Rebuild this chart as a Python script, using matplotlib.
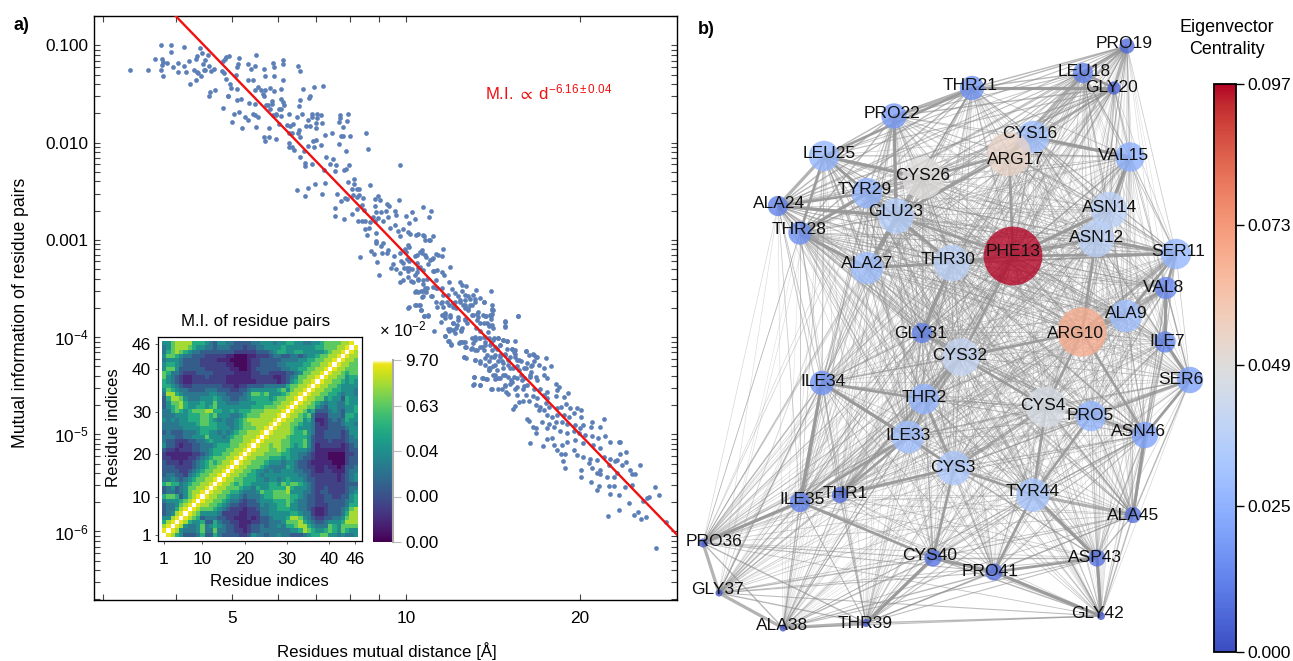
import numpy as np
import matplotlib
matplotlib.use("Agg")
import matplotlib.pyplot as plt
from matplotlib.collections import LineCollection
from matplotlib.colors import ListedColormap, Normalize
from matplotlib.cm import ScalarMappable
from matplotlib.ticker import FixedLocator, NullFormatter, FixedFormatter

plt.rcParams.update({
    "font.family": ["Liberation Sans", "DejaVu Sans"],
    "mathtext.fontset": "custom",
    "mathtext.rm": "Liberation Sans",
    "mathtext.it": "Liberation Sans",
    "mathtext.bf": "Liberation Sans:bold",
    "mathtext.fallback": "stixsans",
})

# ---- scatter: (distance in Angstrom, log10 mutual information)
band_a = [(3.34,-1.25),(3.58,-1.25),(3.77,-1.25),(3.81,-1.31),(3.68,-1.14),(3.78,-1.00),(3.93,-1.00),(3.92,-1.07),
 (3.79,-1.14),(3.81,-1.17),(3.79,-1.20),(3.87,-1.18),(3.96,-1.22),(4.13,-1.02),(4.03,-1.18),(4.04,-1.27),(4.14,-1.21),
 (4.21,-1.16),(4.17,-1.27),(4.23,-1.40),(4.34,-1.35),(4.30,-1.25),(4.36,-1.27),(4.38,-1.28),(4.43,-1.31),(4.47,-1.25),
 (4.50,-1.25),(4.56,-1.21),(4.60,-1.26),(4.65,-1.24),(4.46,-1.19),(4.50,-1.15),(4.54,-1.10),(4.44,-1.08),(4.40,-1.03),
 (4.35,-1.11),(4.33,-1.14),(4.57,-1.52),(4.59,-1.48),(4.67,-1.46),(4.82,-1.64),(4.80,-1.26),(4.85,-1.28),(4.88,-1.34),
 (4.83,-1.16),(4.86,-1.14),(4.88,-1.12),(4.95,-1.11),(4.96,-1.40),(4.98,-1.44),(4.92,-1.52),(4.93,-1.52)]
band_b = [(5.01,-1.79),(5.04,-1.70),(5.14,-1.68),(5.21,-1.85),(5.26,-1.74),(5.33,-1.77),(5.11,-1.56),(5.18,-1.55),
 (5.11,-1.45),(5.12,-1.19),(5.10,-1.22),(5.14,-1.13),(5.08,-1.30),(5.34,-1.19),(5.34,-1.35),(5.43,-1.35),(5.40,-1.24),
 (5.49,-1.21),(5.51,-1.10),(5.35,-1.59),(5.49,-1.60),(5.45,-1.70),(5.49,-1.72),(5.56,-1.74),(5.51,-1.84),(5.54,-1.43),
 (5.49,-1.46),(5.62,-1.46),(5.66,-1.50),(5.71,-1.46),(5.83,-1.44),(5.92,-1.47),(5.69,-1.52),(5.69,-1.24),(5.71,-1.31),
 (5.92,-1.31),(5.90,-1.18),(5.91,-1.22),(5.74,-1.61),(5.78,-1.61),(5.86,-1.57),(5.86,-1.60),(5.81,-1.65),(5.80,-1.85),
 (5.69,-1.94),(5.71,-1.98),(5.79,-1.94),(5.96,-1.96),(5.90,-1.71),(5.96,-1.71),(6.07,-1.73),(6.03,-1.81),(5.97,-1.70)]
band_c = [(6.12,-1.15),(6.14,-1.19),(6.13,-1.35),(6.08,-1.45),(6.08,-1.55),(6.12,-1.58),(6.16,-1.61),(6.09,-1.65),
 (6.03,-1.65),(6.27,-1.70),(6.22,-1.82),(6.31,-1.83),(6.38,-1.81),(6.47,-1.74),(6.60,-1.70),(6.50,-1.21),(6.57,-1.26),
 (6.65,-1.45),(6.55,-1.56),(6.54,-1.62),(6.83,-1.52),(6.79,-1.54),(6.94,-1.43),(7.19,-1.42),(6.29,-1.90),(6.35,-1.90),
 (6.50,-1.90),(6.54,-1.87),(6.57,-1.94),(6.28,-2.00),(6.29,-2.04),(6.35,-2.04),(6.41,-2.08),(6.66,-2.09),(6.55,-2.15),
 (6.78,-2.03),(6.91,-1.98),(7.00,-1.97),(6.94,-2.04),(7.12,-2.02),(6.70,-2.21),(6.68,-2.24),(6.87,-2.22),(6.72,-1.83),
 (6.83,-1.83),(6.78,-1.77),(6.87,-1.70),(6.87,-1.74),(7.03,-1.70),(7.13,-1.72),(7.03,-1.75),(7.00,-1.80),(7.15,-1.80),
 (7.00,-1.85),(7.25,-1.92),(7.46,-1.90),(7.72,-1.93),(7.77,-1.93),(8.01,-1.93),(7.65,-2.01),(7.89,-2.09),(7.68,-1.72),
 (7.70,-1.75),(7.65,-1.79),(7.77,-1.84),(7.92,-1.78),(7.95,-1.70),(8.52,-1.90),(8.59,-2.06),(7.28,-2.15),(7.48,-2.17),
 (7.40,-2.22),(7.57,-2.23),(7.55,-2.29),(7.22,-2.28),(7.98,-2.23),(7.87,-2.27),(7.82,-2.28),(9.75,-2.23)]
band_d = [(6.48,-2.49),(6.70,-2.55),(6.78,-2.47),(6.97,-2.42),(7.25,-2.41),(7.16,-2.53),(7.60,-2.53),(7.72,-2.60),
 (7.85,-2.57),(7.92,-2.58),(7.93,-2.40),(8.13,-2.37),(8.13,-2.42),(8.06,-2.48),(8.22,-2.48),(8.30,-2.48),(8.66,-2.44),
 (8.09,-2.54),(8.22,-2.56),(8.31,-2.54),(8.42,-2.57),(8.39,-2.64),(8.22,-2.68),(8.47,-2.69),(8.06,-2.73),(7.53,-2.67),
 (7.55,-2.75),(7.83,-2.78),(8.26,-2.81),(8.39,-2.81),(8.50,-2.81),(8.66,-2.82),(8.83,-2.81),(8.83,-2.58),(8.94,-2.55),
 (9.02,-2.59),(8.83,-2.65),(9.29,-2.63),(9.35,-2.65),(9.22,-2.70),(9.71,-2.59),(8.89,-2.71),(9.06,-2.71),(8.78,-2.76),
 (8.94,-2.77),(9.13,-2.81),(9.31,-2.76),(9.59,-2.70),(9.60,-2.74),(10.0,-2.75),(10.23,-2.71),(10.35,-2.79),(10.69,-2.66),
 (11.03,-2.70),(10.95,-2.76),(8.50,-2.89),(8.55,-2.95),(8.89,-2.93),(8.62,-2.88),(9.56,-2.85),(9.38,-2.88),(9.67,-2.91),
 (9.87,-2.89),(10.14,-2.83),(10.07,-2.92),(9.78,-2.96),(10.41,-2.95),(10.74,-2.96),(10.98,-3.00)]
band_e = [(8.89,-3.01),(9.06,-3.06),(9.13,-3.03),(9.31,-3.10),(8.89,-3.03),(8.70,-3.11),(8.81,-3.15),(9.08,-3.14),
 (9.26,-3.14),(8.33,-3.18),(8.91,-3.23),(8.97,-3.36),(9.54,-3.17),(9.75,-3.13),(10.0,-3.12),(10.14,-3.07),(10.56,-3.12),
 (10.81,-3.18),(11.25,-3.15),(11.10,-3.20),(10.35,-3.17),(10.14,-3.22),(9.81,-3.22),(9.50,-3.25),(9.44,-3.29),(9.63,-3.30),
 (9.94,-3.29),(10.07,-3.32),(9.75,-3.34),(9.90,-3.41),(9.78,-3.43),(10.20,-3.42),(10.49,-3.29),(10.69,-3.31),(11.18,-3.32),
 (10.49,-3.40),(10.69,-3.41),(10.50,-3.54),(10.35,-3.54),(10.63,-3.53),(10.70,-3.58),(11.04,-3.58),(11.25,-3.49),(10.80,-3.49),
 (10.35,-3.36),(10.14,-3.29)]
band_e2 = [(10.47,-2.94),(10.72,-2.95),(11.12,-2.96),(11.0,-3.0),(10.79,-3.0),(10.17,-2.94),(10.1,-3.05),(9.96,-3.09),
 (10.65,-3.10),(11.58,-3.09),(10.44,-3.16),(10.65,-3.14),(10.79,-3.16),(11.15,-3.19),(11.38,-3.16),(11.56,-3.17),(11.0,-3.21),
 (10.93,-3.25),(10.44,-3.24),(10.58,-3.28),(10.03,-3.20),(9.9,-3.24),(10.03,-3.29),(10.24,-3.30),(10.44,-3.33),(10.1,-3.38),
 (10.3,-3.43),(10.51,-3.41),(10.72,-3.45),(10.86,-3.40),(11.15,-3.32),(11.3,-3.31),(11.53,-3.33),(11.65,-3.36),(11.91,-3.28),
 (11.86,-3.43),(12.4,-3.43),(12.48,-3.46),(12.7,-3.47),(11.27,-3.41),(11.15,-3.48),(11.3,-3.50),(11.53,-3.50),(12.03,-3.51),
 (12.15,-3.55),(12.48,-3.53),(12.32,-3.58),(12.65,-3.57),(12.82,-3.58),(13.07,-3.57),(13.2,-3.52),(14.02,-3.53),(10.42,-3.53),
 (10.69,-3.53),(10.86,-3.50),(10.83,-3.54),(10.65,-3.59),(11.08,-3.58),(11.27,-3.64),(11.53,-3.64),(11.6,-3.57),(11.83,-3.57),
 (10.38,-3.67),(10.56,-3.67),(10.13,-3.69),(10.61,-3.72),(11.6,-3.69),(11.88,-3.67),(12.07,-3.65),(12.4,-3.64),(12.65,-3.67),
 (12.9,-3.67),(13.16,-3.64),(13.43,-3.60),(13.65,-3.64),(14.07,-3.67),(14.07,-3.72),(13.3,-3.74),(12.82,-3.72),(13.07,-3.77),
 (13.7,-3.78),(13.98,-3.77),(11.68,-3.77),(11.91,-3.79),(10.93,-3.77),(10.75,-3.78),(12.32,-3.79),(12.65,-3.70)]
band_e3 = [(11.53,-3.77),(11.68,-3.75),(11.91,-3.77),(12.15,-3.64),(12.4,-3.62),(12.65,-3.62),(12.9,-3.61),(13.16,-3.61),
 (13.62,-3.64),(14.08,-3.71),(14.08,-3.76),(13.75,-3.78),(14.08,-3.88),(13.89,-3.88),(13.62,-3.86),(13.25,-3.82),(14.8,-3.83),
 (14.8,-3.89),(15.63,-3.78),(12.07,-3.86),(12.23,-3.88),(12.65,-3.82),(11.83,-3.92),(12.07,-3.93),(12.43,-3.93),(12.73,-3.86),
 (11.68,-3.99),(11.83,-4.04),(11.94,-4.07),(12.43,-4.05),(12.65,-4.05),(12.65,-4.10),(13.16,-4.00),(13.35,-4.01),(13.62,-4.00),
 (13.7,-4.05),(13.07,-4.06),(12.98,-4.11),(13.25,-4.13),(13.53,-4.10),(13.98,-4.08),(14.17,-4.01),(14.45,-4.01),(14.74,-4.03),
 (14.92,-4.04),(14.08,-4.13),(14.36,-4.12),(14.55,-4.08),(15.24,-4.12),(15.35,-4.15),(14.83,-4.17),(14.55,-4.18),(14.17,-4.20),
 (13.8,-4.18),(13.62,-4.13),(16.1,-4.14),(16.64,-4.18),(15.46,-4.20),(15.67,-4.24),(16.2,-4.27),(16.85,-4.21),(15.02,-4.24),
 (14.64,-4.25),(14.26,-4.29),(13.89,-4.25),(13.44,-4.27),(13.16,-4.24),(12.6,-4.21),(13.98,-4.32),(14.36,-4.34),(14.74,-4.32),
 (15.13,-4.32),(15.57,-4.30),(16.0,-4.32),(16.53,-4.29),(16.43,-4.36),(15.78,-4.39),(15.35,-4.41),(14.83,-4.39),(14.26,-4.39),
 (13.89,-4.34),(13.13,-4.41),(13.58,-4.42),(13.76,-4.43),(14.26,-4.43),(14.55,-4.42),(15.24,-4.46),(15.89,-4.44),(16.38,-4.41),
 (13.07,-4.49),(13.4,-4.49),(14.08,-4.53),(14.64,-4.53),(14.83,-4.49),(15.57,-4.51),(16.0,-4.50),(16.85,-4.44)]
band_f = [(10.1,-3.70),(10.4,-3.67),(10.55,-3.67),(10.6,-3.72),(10.75,-3.78),(10.9,-3.78),(11.2,-3.94),(11.3,-3.69),
 (11.5,-3.65),(11.75,-3.64),(11.6,-3.77),(11.7,-3.80),(11.5,-3.84),(11.9,-3.92),(11.85,-3.94),(11.7,-3.99),(11.85,-4.04),
 (11.95,-4.08),(12.05,-3.69),(12.2,-3.70),(12.55,-3.67),(12.8,-3.70),(13.0,-3.67),(13.25,-3.76),(13.6,-3.77),(14.0,-3.78),
 (14.15,-3.72),(14.05,-3.81),(13.8,-3.86),(13.9,-3.89),(14.15,-3.91),(14.8,-3.84),(14.85,-3.90),(15.6,-3.78),(12.05,-3.86),
 (12.3,-3.82),(12.2,-3.91),(12.5,-3.91),(12.45,-3.94),(12.15,-3.96),(12.65,-3.81),(13.0,-3.77),(13.3,-3.79),(13.45,-3.86),
 (13.2,-3.91),(13.45,-3.94),(13.85,-3.95),(12.4,-4.05),(12.55,-4.05),(12.7,-4.10),(12.35,-4.06),(13.0,-4.01),(13.15,-4.03),
 (13.45,-4.01),(13.7,-4.00),(13.9,-4.01),(14.15,-4.03),(14.4,-4.01),(14.7,-4.03),(14.95,-4.04),(15.45,-4.04)]
band_g = [(12.95,-4.12),(13.15,-4.13),(13.45,-4.10),(13.7,-4.08),(14.0,-4.06),(14.25,-4.10),(14.55,-4.08),(14.95,-4.12),
 (15.25,-4.12),(15.45,-4.13),(16.1,-4.14),(16.55,-4.17),(15.45,-4.17),(12.6,-4.21),(12.7,-4.22),(13.15,-4.24),(13.45,-4.25),
 (13.7,-4.22),(14.0,-4.20),(14.25,-4.18),(14.55,-4.20),(14.85,-4.18),(15.15,-4.20),(15.55,-4.24),(15.8,-4.25),(16.75,-4.20),
 (16.3,-4.18),(17.45,-4.22),(16.65,-4.25),(17.0,-4.29),(13.7,-4.29),(13.9,-4.32),(14.15,-4.30),(14.4,-4.25),(14.7,-4.27),
 (15.0,-4.29),(15.3,-4.32),(15.65,-4.34),(16.1,-4.32),(16.45,-4.30),(17.3,-4.32),(17.8,-4.30),(13.9,-4.34),(14.15,-4.39),
 (14.4,-4.42),(14.7,-4.39),(15.0,-4.41),(15.2,-4.44),(15.55,-4.42),(16.0,-4.42),(16.35,-4.39),(16.8,-4.41),(17.3,-4.39),
 (17.55,-4.42),(13.1,-4.41),(13.1,-4.48),(13.45,-4.49),(13.55,-4.42),(13.8,-4.43),(14.05,-4.53),(14.4,-4.53),(14.8,-4.50),
 (15.1,-4.48),(15.45,-4.53),(15.9,-4.53),(16.2,-4.49),(16.65,-4.53),(17.05,-4.53),(17.55,-4.56),(18.15,-4.48),(18.4,-4.51),
 (18.25,-4.54),(19.05,-4.58),(18.75,-4.62)]
band_h = [(14.9,-4.56),(15.0,-4.59),(15.55,-4.60),(16.1,-4.60),(16.55,-4.61),(16.85,-4.63),(17.3,-4.60),(17.55,-4.63),
 (18.15,-4.61),(15.65,-4.67),(15.45,-4.71),(15.3,-4.74),(15.9,-4.66),(16.3,-4.66),(16.75,-4.70),(17.05,-4.72),(17.45,-4.68),
 (17.7,-4.72),(17.0,-4.75),(17.3,-4.75),(18.25,-4.73),(18.5,-4.72),(18.9,-4.69),(19.2,-4.73),(19.75,-4.73),(20.1,-4.75),
 (16.2,-4.84),(16.3,-4.86),(17.55,-4.80),(17.9,-4.82),(18.25,-4.80),(18.75,-4.80),(19.1,-4.82),(19.5,-4.78),(20.1,-4.82),
 (21.0,-4.87),(21.95,-4.84),(17.2,-4.87),(17.65,-4.89),(18.15,-4.87),(18.6,-4.87),(19.0,-4.89),(19.6,-4.90),(20.25,-4.90),
 (20.85,-4.92),(21.65,-4.93),(16.55,-4.93),(16.8,-4.94),(16.8,-4.99),(17.55,-4.94),(18.0,-4.92),(18.45,-4.97),(19.0,-4.99),
 (19.5,-4.97),(20.0,-4.94),(19.9,-4.99),(20.4,-5.01),(20.95,-5.02),(21.5,-5.04),(22.1,-5.02)]
band_i = [(16.4,-5.09),(17.25,-5.12),(17.5,-5.05),(17.9,-5.04),(18.0,-5.11),(18.6,-5.11),(19.0,-5.08),(19.6,-5.06),
 (20.25,-5.09),(21.05,-5.11),(21.65,-5.14),(22.5,-5.08),(23.3,-5.08),(23.45,-5.08),(18.25,-5.16),(18.5,-5.20),(18.85,-5.20),
 (19.5,-5.16),(19.75,-5.21),(20.25,-5.23),(20.8,-5.25),(21.4,-5.26),(22.0,-5.23),(22.55,-5.25),(23.15,-5.26),(24.0,-5.18),
 (23.45,-5.20),(18.65,-5.27),(18.8,-5.35),(20.7,-5.30),(20.95,-5.35),(21.65,-5.37),(22.4,-5.32),(23.0,-5.28),(23.6,-5.32),
 (24.0,-5.29),(25.4,-5.32),(20.1,-5.37),(20.1,-5.44),(20.85,-5.49),(21.6,-5.41),(21.4,-5.40),(22.25,-5.44),(22.85,-5.44),
 (23.15,-5.40),(24.4,-5.37),(24.85,-5.41),(24.55,-5.41),(21.4,-5.57),(21.55,-5.53),(22.4,-5.53),(22.85,-5.53),(23.9,-5.54),
 (24.6,-5.52),(22.55,-5.61),(23.3,-5.62),(26.05,-5.66),(26.3,-5.65),(26.9,-5.54),(27.4,-5.62),(25.65,-5.69),(24.3,-5.71),
 (23.3,-5.78),(22.3,-5.84),(24.75,-5.83),(25.2,-5.80),(25.45,-5.87),(26.0,-5.85),(28.1,-5.90),(27.0,-6.17)]

fit_amplitude = 1028.0
fit_exponent = -6.16
fit_range = [3.9, 29.4]
mi_ticks = [1e-1, 1e-2, 1e-3, 1e-4, 1e-5, 1e-6]
mi_ticklabels = ["0.100", "0.010", "0.001", "10$^{-4}$", "10$^{-5}$", "10$^{-6}$"]
dist_ticks = [5, 10, 20]
dist_minor = [3, 4, 6, 7, 8, 9, 30]

# ---- inset matrix: lower triangle, colour level 0-9 per cell, w = diagonal maximum
matrix_rows = ["w","9w","89w","689w","5589w","34589w","344689w","3445789w","45556789w","677635789w",
 "3443457889w","34534577889w","676645677889w","44543456778"+"89w",
 "344332456778"+"89w","3333223456778"+"89w","33322223456778"+"89w","322212234567678"+"89w",
 "2211112234567778"+"89w","21111112234566778"+"89w","322122233445666778"+"89w","5332122334445666778"+"89w",
 "43322233445655557778"+"89w","444334455575554567788"+"89w","3433344456655454567788"+"89w",
 "44444555566665554567778"+"89w","444455556776655445677888"+"89w","5454556667765454456788888"+"89w",
 "44455566677675554456777888"+"89w","446765677788665565666777888"+"89w","3567865566567555555556667778"+"89w",
 "35778655565575544455556666778"+"89w","368875444555654433445666656778"+"89w",
 "4886544444455443333457767555678"+"89w","57654433334443332233455555567578"+"89w",
 "665432233333332221223333444446778"+"89w","6543211222222221111111222221235678"+"89w",
 "75432112223222211111122222112345778"+"89w","764432223333222221111223322223345778"+"89w",
 "5775333333222222110012333333445566778"+"89w","56654333322222211000122333344555566778"+"89w",
 "455543333222211100001223333344445566778"+"89w","5776544333222221100011222344334434556778"+"89w",
 "46787654433333333222223334566556655555678"+"89w","457888765544344433323344555565555555667778"+"89w",
 "5578888666543554433334455545566554455677778"+"89w"]
level_value = [0.03, 0.12, 0.20, 0.30, 0.40, 0.50, 0.62, 0.75, 0.87, 0.97]

# ---- network: residues in sequence order, layout position, centrality, label centre
residues = ["THR1","THR2","CYS3","CYS4","PRO5","SER6","ILE7","VAL8","ALA9","ARG10","SER11","ASN12","PHE13","ASN14",
 "VAL15","CYS16","ARG17","LEU18","PRO19","GLY20","THR21","PRO22","GLU23","ALA24","LEU25","CYS26","ALA27","THR28",
 "TYR29","THR30","GLY31","CYS32","ILE33","ILE34","ILE35","PRO36","GLY37","ALA38","THR39","CYS40","PRO41","GLY42",
 "ASP43","TYR44","ALA45","ASN46"]
layout_x = [840,924,954,1046,1091,1190,1165,1166,1126,1082,1176,1096,1013,1109,1130,1033,1009,1083,1127,1114,972,894,
 896,778,824,923,867,800,867,952,922,961,908,822,800,703,719,783,866,933,994,1101,1097,1033,1133,1145]
layout_y = [495,399,468,407,416,380,342,288,316,332,254,239,256,210,157,137,154,73,46,88,88,116,216,206,156,178,268,
 233,193,263,333,357,437,383,502,543,593,628,623,558,572,616,558,495,515,435]
label_x = [845,924,953,1043,1090,1181,1167,1164,1126,1075,1178,1097,1013,1110,1123,1030,1015,1084,1124,1112,970,892,
 896,779,829,923,867,799,865,948,921,960,908,823,802,714,718,782,865,930,990,1098,1095,1033,1133,1138]
label_y = [494,397,467,406,415,380,342,287,314,333,251,238,252,208,155,133,160,72,44,88,85,113,212,203,153,176,264,
 230,190,259,333,355,436,382,500,541,590,625,623,556,571,613,557,491,515,432]
centrality = [.0074,.0259,.033,.046,.0259,.0194,.0127,.0139,.0295,.068,.0259,.0373,.097,.0373,.0242,.0295,.0540,.0115,
 .0065,.0049,.0166,.018,.0352,.0115,.0259,.0490,.0295,.0152,.0259,.0373,.0115,.040,.0295,.0166,.0115,.0023,.0014,
 .0014,.0018,.0083,.0083,.0018,.0083,.0313,.0074,.0194]
strong_edges = [(21,25),(22,23),(25,26),(25,29),(25,28),(24,23),(24,29),(28,29),(28,27),(26,17),(23,17),(16,15),(17,13),
 (13,14),(13,11),(12,11),(14,15),(27,30),(27,23),(23,30),(23,13),(30,13),(30,31),(11,8),(11,9),(8,7),(7,6),(12,10),(10,4),
 (10,46),(4,32),(5,46),(6,46),(46,45),(4,44),(5,44),(3,44),(3,33),(3,40),(3,1),(2,32),(34,33),(34,35),(34,2),(33,1),(33,35),
 (35,36),(44,41),(44,43),(43,42),(43,41),(40,41),(41,42),(40,39),(35,40),(21,20),(18,20),(13,32),(10,32)]
cbar_ticks = [0.000, 0.025, 0.049, 0.073, 0.097]
inset_ticks = [1, 10, 20, 30, 40, 46]
inset_cbar_labels = ["0.00", "0.00", "0.04", "0.63", "9.70"]

W, H = 1293, 661
fig = plt.figure(figsize=(W/100, H/100), dpi=100)
def rect(x0, y0, x1, y1):
    return [x0/W, 1 - y1/H, (x1-x0)/W, (y1-y0)/H]

# ---- panel a
ax = fig.add_axes(rect(94, 16, 677, 600))
pts = np.array(band_a + band_b + band_c + band_d + band_e + band_e2 + band_e3 + band_f + band_g + band_h + band_i)
ax.scatter(pts[:, 0], 10.0**pts[:, 1], s=11.5, color="#5b7fb6", linewidths=0, zorder=2)
fd = np.array(fit_range)
ax.plot(fd, fit_amplitude*fd**fit_exponent, color="#f01010", lw=1.7, zorder=3)
ax.set_xscale("log"); ax.set_yscale("log")
ax.set_xlim(2.89, 29.4); ax.set_ylim(10**-6.705, 10**-0.6965)
ax.xaxis.set_major_locator(FixedLocator(dist_ticks))
ax.xaxis.set_major_formatter(FixedFormatter([str(v) for v in dist_ticks]))
ax.xaxis.set_minor_locator(FixedLocator(dist_minor))
ax.xaxis.set_minor_formatter(NullFormatter())
ax.yaxis.set_major_locator(FixedLocator(mi_ticks))
ax.yaxis.set_major_formatter(FixedFormatter(mi_ticklabels))
ax.yaxis.set_minor_locator(matplotlib.ticker.LogLocator(base=10, subs=np.arange(2, 10), numticks=12))
ax.yaxis.set_minor_formatter(NullFormatter())
ax.tick_params(which="both", direction="in", top=True, right=True, length=4.5, width=0.8, color="#444444",
               labelsize=12.4)
ax.tick_params(axis="y", pad=4)
ax.tick_params(axis="x", pad=8)
for s in ax.spines.values():
    s.set_linewidth(1.0)
ax.set_xlabel("Residues mutual distance [Å]", fontsize=12.2, va="center")
ax.xaxis.set_label_coords((387-94)/583, (600-651)/584)
ax.set_ylabel("Mutual information of residue pairs", fontsize=12.7, va="center")
ax.yaxis.set_label_coords((21-94)/583, (600-313)/584)
fig.text(485/W, 1-92/H, r"M.I. $\propto$ d$^{-6.16\pm0.04}$", color="#f01010", fontsize=12, ha="left", va="center")
fig.text(13/W, 1-25/H, "a)", fontsize=13, fontweight="bold", ha="left", va="center")
fig.text(698/W, 1-29/H, "b)", fontsize=13, fontweight="bold", ha="left", va="center")

# ---- inset matrix
n = len(matrix_rows)
lev = np.zeros((n, n))
for i, row in enumerate(matrix_rows):
    for j, ch in enumerate(row):
        v = 1.0 if ch == "w" else level_value[int(ch)]
        lev[i, j] = lev[j, i] = v
base = plt.get_cmap("viridis")(np.linspace(0, 0.97, 250))
top = np.linspace(base[-1], [1, 1, 1, 1], 6)
cm_in = ListedColormap(np.vstack([base, top]))
ai = fig.add_axes(rect(158, 337, 361.7, 541))
ai.imshow(lev, origin="lower", cmap=cm_in, vmin=0, vmax=1, extent=(0.5, n+.5, 0.5, n+.5), interpolation="nearest", aspect="auto")
ai.set_xlim(-0.4, 47.6); ai.set_ylim(-0.4, 47.6)
ai.set_xticks(inset_ticks); ai.set_yticks(inset_ticks)
ai.tick_params(length=2, width=0.6, color="#444444", labelsize=12.4)
ai.tick_params(axis="x", pad=6)
ai.tick_params(axis="y", pad=3)
ai.set_xlabel("Residue indices", fontsize=12.1, va="center")
ai.xaxis.set_label_coords((269-158)/203.7, (541-582)/204)
ai.set_ylabel("Residue indices", fontsize=12.1, va="center")
ai.yaxis.set_label_coords((113-158)/203.7, (541-428)/204)
fig.text(256/W, 1-321/H, "M.I. of residue pairs", fontsize=12.2, ha="center", va="center")
for s in ai.spines.values():
    s.set_linewidth(0.9)
ac = fig.add_axes(rect(373, 360, 393, 542))
ac.imshow(np.linspace(0, 1, 256).reshape(-1, 1), origin="lower", cmap=cm_in, vmin=0, vmax=1, aspect="auto", extent=(0, 1, 0, 1))
ac.set_xticks([]); ac.yaxis.tick_right()
ac.set_yticks(np.linspace(0, 1, 5)); ac.set_yticklabels(inset_cbar_labels)
ac.tick_params(length=6, width=0.8, color="#bbbbbb", labelsize=12.4, pad=3)
for k, s in ac.spines.items():
    s.set_visible(k == "right"); s.set_color("#aaaaaa"); s.set_linewidth(1.5)
fig.text(403/W, 1-329/H, r"$\times$ 10$^{-2}$", fontsize=12, ha="center", va="center")

# ---- panel b network
an = fig.add_axes([0, 0, 1, 1], facecolor="none")
an.set_xlim(0, W); an.set_ylim(H, 0); an.axis("off")
an.set_zorder(-1)
segs, widths, alphas = [], [], []
lw_by_level = {0: .34, 1: .36, 2: .4, 3: .44, 4: .48, 5: .54, 6: .62, 7: .78, 8: 1.0, 9: 2.3}
for i in range(n):
    for j in range(i):
        lv = int(matrix_rows[i][j])
        segs.append([(layout_x[i], layout_y[i]), (layout_x[j], layout_y[j])])
        widths.append(lw_by_level[lv])
        alphas.append(0.27 + 0.045*lv)
colors = [(0.56, 0.56, 0.56, a) for a in alphas]
an.add_collection(LineCollection(segs, linewidths=widths, colors=colors, zorder=1))
se = [[(layout_x[a-1], layout_y[a-1]), (layout_x[b-1], layout_y[b-1])] for a, b in strong_edges]
an.add_collection(LineCollection(se, linewidths=2.0, colors=[(0.6, 0.6, 0.6, 0.9)], zorder=1.5))
norm = Normalize(0, 0.097)
cmap = plt.get_cmap("coolwarm")
an.scatter(layout_x, layout_y, s=np.array(centrality)*18500, c=centrality, cmap=cmap, norm=norm, alpha=0.78, linewidths=0, zorder=2)
for name, lx, ly in zip(residues, label_x, label_y):
    an.text(lx, ly, name, fontsize=12.5, ha="center", va="center", color="#111111", zorder=3)

cb = fig.add_axes(rect(1214, 84, 1236, 652))
fig.colorbar(ScalarMappable(norm=norm, cmap=cmap), cax=cb, ticks=cbar_ticks, format="%.3f")
cb.tick_params(length=6, width=1, labelsize=12.6, pad=2)
for s in cb.spines.values():
    s.set_linewidth(1.3)
fig.text(1227/W, 1-27/H, "Eigenvector", fontsize=12.9, ha="center", va="center")
fig.text(1227/W, 1-49/H, "Centrality", fontsize=12.9, ha="center", va="center")

fig.savefig("out.png", dpi=100)
